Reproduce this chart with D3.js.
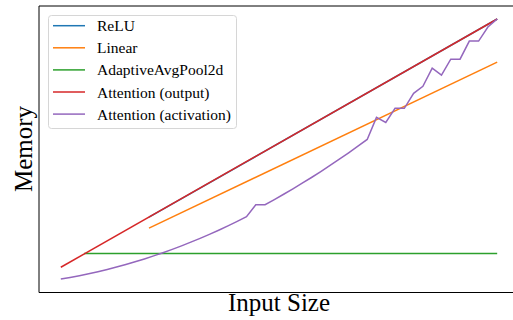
<!DOCTYPE html>
<html>
<head>
<meta charset="utf-8">
<script src="https://cdn.jsdelivr.net/npm/d3@7"></script>
<style>
  body { margin: 0; background: #fff; }
  svg { display: block; }
  text { font-family: "Liberation Serif", "Times New Roman", serif; fill: #000; }
</style>
</head>
<body>
<svg id="chart" width="513" height="320"></svg>
<script>
// input sizes (x) and memory (y)
const sizes = [16, 32, 48, 64, 80, 96, 112, 128, 144, 160, 176, 192, 208, 224, 240, 256,
               272, 288, 304, 320, 336, 352, 368, 384, 400, 416, 432, 448, 464, 480, 496, 512,
               528, 544, 560, 576, 592, 608, 624, 640, 656, 672, 688, 704, 720, 736, 752, 768];

const reluX = [168, 768];
const reluY = [82.6, 280];
const linearX = [168, 768];
const linearY = [71.7, 237];
const poolX = [56, 768];
const poolY = [46.3, 46.3];
const attnOutX = [16, 768];
const attnOutY = [32.7, 280];
const attnAct = [21, 22.6, 24.3, 26.2, 28.3, 30.5, 32.9, 35.4, 38.1, 41.0, 44, 47.2, 50.5, 54.0, 57.7, 61.5,
                 65.5, 69.6, 73.9, 78.4, 83, 95, 95, 100.1, 105.4, 110.8, 116.4, 122.1, 128, 134.1, 140.3, 146.7,
                 153.3, 160, 182, 177, 191, 191, 206, 213, 231, 224, 240, 240, 258, 258, 272, 280];

const series = [
  { name: "ReLU", color: "#1f77b4", x: reluX, y: reluY },
  { name: "Linear", color: "#ff7f0e", x: linearX, y: linearY },
  { name: "AdaptiveAvgPool2d", color: "#2ca02c", x: poolX, y: poolY },
  { name: "Attention (output)", color: "#d62728", x: attnOutX, y: attnOutY },
  { name: "Attention (activation)", color: "#9467bd", x: sizes, y: attnAct }
];

const svg = d3.select("#chart");
const plotLeft = 39, plotRight = 519, plotTop = 6, plotBottom = 292;

// matplotlib-style 5% margins
const xMin = d3.min(series, s => d3.min(s.x)), xMax = d3.max(series, s => d3.max(s.x));
const yMin = d3.min(series, s => d3.min(s.y)), yMax = d3.max(series, s => d3.max(s.y));
const xPad = (xMax - xMin) * 0.05, yPad = (yMax - yMin) * 0.05;

const x = d3.scaleLinear().domain([xMin - xPad, xMax + xPad]).range([plotLeft, plotRight]);
const y = d3.scaleLinear().domain([yMin - yPad, yMax + yPad]).range([plotBottom, plotTop]);

const line = d3.line().x(d => x(d[0])).y(d => y(d[1]));

svg.append("g")
  .selectAll("path")
  .data(series)
  .enter()
  .append("path")
  .attr("fill", "none")
  .attr("stroke", d => d.color)
  .attr("stroke-width", 1.5)
  .attr("d", d => line(d.x.map((v, i) => [v, d.y[i]])));

// spines, no ticks
svg.append("line").attr("x1", plotLeft).attr("x2", plotRight).attr("y1", plotTop).attr("y2", plotTop)
  .attr("stroke", "#000").attr("stroke-width", 1);
svg.append("line").attr("x1", plotLeft).attr("x2", plotLeft).attr("y1", plotTop).attr("y2", plotBottom + 0.5)
  .attr("stroke", "#000").attr("stroke-width", 1);
svg.append("line").attr("x1", plotLeft).attr("x2", plotRight).attr("y1", plotBottom + 0.5).attr("y2", plotBottom + 0.5)
  .attr("stroke", "#000").attr("stroke-width", 1);

// axis labels
svg.append("text")
  .attr("x", (plotLeft + plotRight) / 2)
  .attr("y", 311)
  .attr("text-anchor", "middle")
  .attr("font-size", "25px")
  .text("Input Size");

svg.append("text")
  .attr("transform", `translate(32,${(plotTop + plotBottom) / 2}) rotate(-90)`)
  .attr("text-anchor", "middle")
  .attr("font-size", "25px")
  .text("Memory");

// legend
const legend = svg.append("g").attr("transform", "translate(48,15)");
legend.append("rect")
  .attr("x", 0.5).attr("y", 0.5)
  .attr("width", 188).attr("height", 113)
  .attr("rx", 3)
  .attr("fill", "#fff").attr("fill-opacity", 0.8)
  .attr("stroke", "#d6d6d6");

const rows = legend.selectAll("g.row")
  .data(series)
  .enter()
  .append("g")
  .attr("class", "row")
  .attr("transform", (d, i) => `translate(0,${10.7 + i * 22.1})`);

rows.append("line")
  .attr("x1", 5).attr("x2", 37)
  .attr("stroke", d => d.color)
  .attr("stroke-width", 1.5);

rows.append("text")
  .attr("x", 49)
  .attr("y", 5.5)
  .attr("font-size", "15.5px")
  .text(d => d.name);
</script>
</body>
</html>
